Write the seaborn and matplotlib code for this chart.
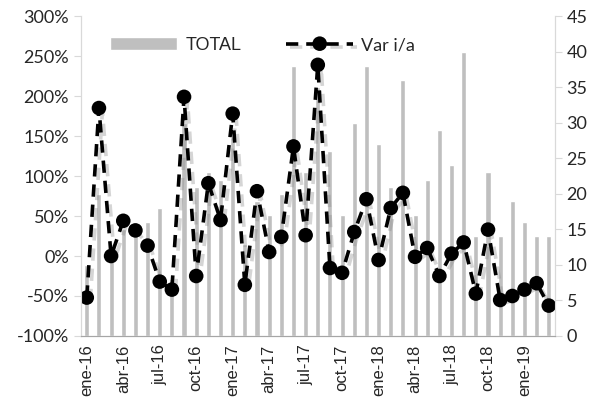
import matplotlib
matplotlib.use('Agg')
import numpy as np
import pandas as pd
import matplotlib.pyplot as plt
import matplotlib.patheffects as pe
import seaborn as sns

# months ene-16 .. mar-19
meses = ["ene", "feb", "mar", "abr", "may", "jun", "jul", "ago", "sep", "oct", "nov", "dic"]
periodos = [f"{meses[i % 12]}-{16 + i // 12}" for i in range(39)]

total = [10, 20, 12, 15, 15, 16, 18, 8, 30, 21, 23, 22, 28, 13, 19, 17, 20, 38, 23, 35,
         26, 17, 30, 38, 27, 21, 36, 17, 22, 29, 24, 40, 14, 23, 14, 19, 16, 14, 14]
var_ia = [-0.52, 1.85, 0.0, 0.44, 0.32, 0.13, -0.32, -0.42, 1.99, -0.25, 0.91, 0.45, 1.78,
          -0.36, 0.81, 0.05, 0.24, 1.37, 0.26, 2.39, -0.15, -0.21, 0.30, 0.71, -0.05, 0.60,
          0.79, -0.01, 0.10, -0.25, 0.03, 0.17, -0.47, 0.33, -0.55, -0.50, -0.42, -0.34, -0.62]

df = pd.DataFrame({"periodo": periodos, "TOTAL": total, "Var i/a": var_ia})
df["pos"] = np.arange(len(df))

sns.set_style("white")
plt.rcParams['font.family'] = ['Lato', 'DejaVu Sans']

fig = plt.figure(figsize=(5.96, 4.12), dpi=100)
ax = fig.add_axes([0.1354, 0.1845, 0.7956, 0.7765])
ax2 = ax.twinx()

sns.barplot(data=df, x="pos", y="TOTAL", native_scale=True, width=0.42,
            color="#BFBFBF", saturation=1, ax=ax2, label="TOTAL")
if ax2.get_legend() is not None:
    ax2.get_legend().remove()

sns.lineplot(data=df, x="pos", y="Var i/a", ax=ax, color="black", lw=2.6,
             marker="o", markersize=10.5, markeredgewidth=0, label="Var i/a",
             dashes=False, legend=False,
             path_effects=[pe.SimpleLineShadow(offset=(2.5, -2.5), shadow_color="#888888", alpha=0.35),
                           pe.Normal()])
ax.lines[0].set_dashes((3.4, 2.2))

ax.set_zorder(ax2.get_zorder() + 1)
ax.patch.set_visible(False)

ax.set_xlim(-0.5, len(df) - 0.5)
ax.set_ylim(-1, 3)
ax2.set_ylim(0, 45)

ax.set_yticks(np.arange(-1, 3.01, 0.5))
ax.set_yticklabels([f"{int(round(v * 100))}%" for v in np.arange(-1, 3.01, 0.5)], fontsize=13)
ax2.set_yticks(np.arange(0, 46, 5))
ax2.set_yticklabels([str(v) for v in range(0, 46, 5)], fontsize=13)

ax.set_xticks(df["pos"][::3])
ax.set_xticklabels(df["periodo"][::3], rotation=90, fontsize=12, family="Liberation Sans")
ax.set_xticks(np.arange(-0.5, len(df), 3), minor=True)
ax.tick_params(axis="x", which="major", length=0, pad=6)
ax.tick_params(axis="x", which="minor", length=5, color="#A6A6A6", width=1)
ax.tick_params(axis="y", length=5, color="#D9D9D9", left=True)
ax2.tick_params(axis="y", length=5, color="#D9D9D9", right=True)

ax.set_xlabel("")
ax.set_ylabel("")
ax2.set_xlabel("")
ax2.set_ylabel("")

for a in (ax, ax2):
    a.spines["top"].set_visible(False)
    a.spines["left"].set_color("#D9D9D9")
    a.spines["right"].set_color("#D9D9D9")
    a.spines["bottom"].set_color("#A6A6A6")
    a.grid(False)

h_bar = ax2.patches[0]
h_line = ax.lines[0]
leg = ax.legend([h_bar, h_line], ["TOTAL", "Var i/a"], loc="upper left",
                bbox_to_anchor=(0.028, 0.985), ncol=2, frameon=False,
                handlelength=3.7, handleheight=0.75, handletextpad=0.45,
                columnspacing=2.5, prop={"size": 13})
leg.get_texts()[0].set_family(["Liberation Sans"])

fig.savefig("out.png", dpi=100)
